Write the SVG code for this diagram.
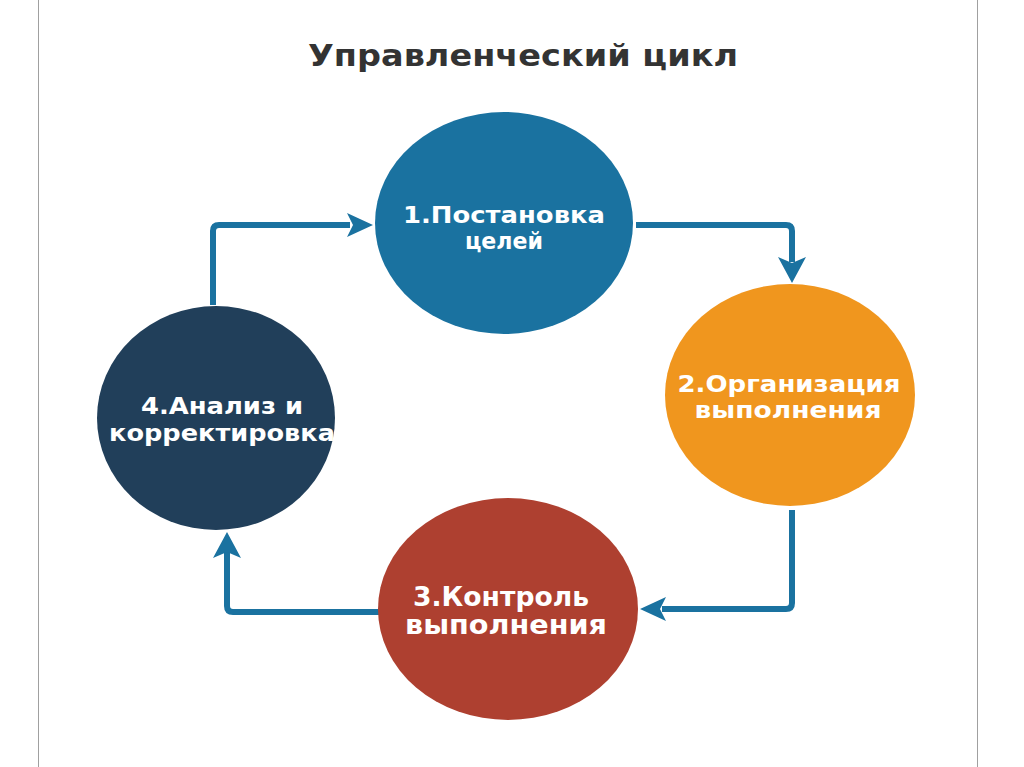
<svg xmlns="http://www.w3.org/2000/svg" width="1024" height="767" viewBox="0 0 1024 767">
<style>
.t{font-family:"DejaVu Sans",Verdana,sans-serif;font-weight:bold;fill:#fff;text-anchor:middle}
.c{fill:none;stroke:#1a72a0;stroke-width:6;stroke-linejoin:round}
.h{fill:#1a72a0}
</style>
<rect width="1024" height="767" fill="#fff"/>
<line x1="38.5" y1="0" x2="38.5" y2="767" stroke="#a0a0a0" stroke-width="1"/>
<line x1="977.5" y1="0" x2="977.5" y2="767" stroke="#a0a0a0" stroke-width="1"/>
<text x="523" y="66" textLength="430" lengthAdjust="spacingAndGlyphs" style="font-family:'DejaVu Sans',sans-serif;font-weight:bold;font-size:31px;fill:#333;text-anchor:middle">Управленческий цикл</text>
<g id="connectors">
<path class="c" d="M213,305 V231 Q213,225 219,225 H350"/>
<polygon class="h" points="373,225 347,213 353,225 347,237"/>
<path class="c" d="M636,225 H786 Q792,225 792,231 V262"/>
<polygon class="h" points="792,283 778,257 792,263 806,257"/>
<path class="c" d="M792,510 V603 Q792,609 786,609 H662"/>
<polygon class="h" points="640,609 666,597 660,609 666,621"/>
<path class="c" d="M380,612 H233 Q227,612 227,606 V552"/>
<polygon class="h" points="227,532 213,558 227,552 241,558"/>
</g>
<g id="node1">
<ellipse cx="504" cy="223" rx="129" ry="111" fill="#1a72a0"/>
<text class="t" x="504" y="223" font-size="23" textLength="202" lengthAdjust="spacingAndGlyphs">1.Постановка</text>
<text class="t" x="504" y="249" font-size="23" textLength="78" lengthAdjust="spacingAndGlyphs">целей</text>
</g>
<g id="node2">
<ellipse cx="790" cy="395" rx="125" ry="111" fill="#f0961e"/>
<text class="t" x="789" y="392" font-size="23" textLength="223" lengthAdjust="spacingAndGlyphs">2.Организация</text>
<text class="t" x="788" y="418" font-size="23" textLength="187" lengthAdjust="spacingAndGlyphs">выполнения</text>
</g>
<g id="node3">
<ellipse cx="508" cy="609" rx="130" ry="111" fill="#ae4030"/>
<text class="t" x="501" y="606" font-size="26" textLength="176" lengthAdjust="spacingAndGlyphs">3.Контроль</text>
<text class="t" x="506" y="634" font-size="26" textLength="202" lengthAdjust="spacingAndGlyphs">выполнения</text>
</g>
<g id="node4">
<ellipse cx="216" cy="418" rx="119" ry="112" fill="#213f5a"/>
<text class="t" x="222" y="414" font-size="23" textLength="162" lengthAdjust="spacingAndGlyphs">4.Анализ и</text>
<text class="t" x="222" y="441" font-size="23" textLength="226" lengthAdjust="spacingAndGlyphs">корректировка</text>
</g>
</svg>
